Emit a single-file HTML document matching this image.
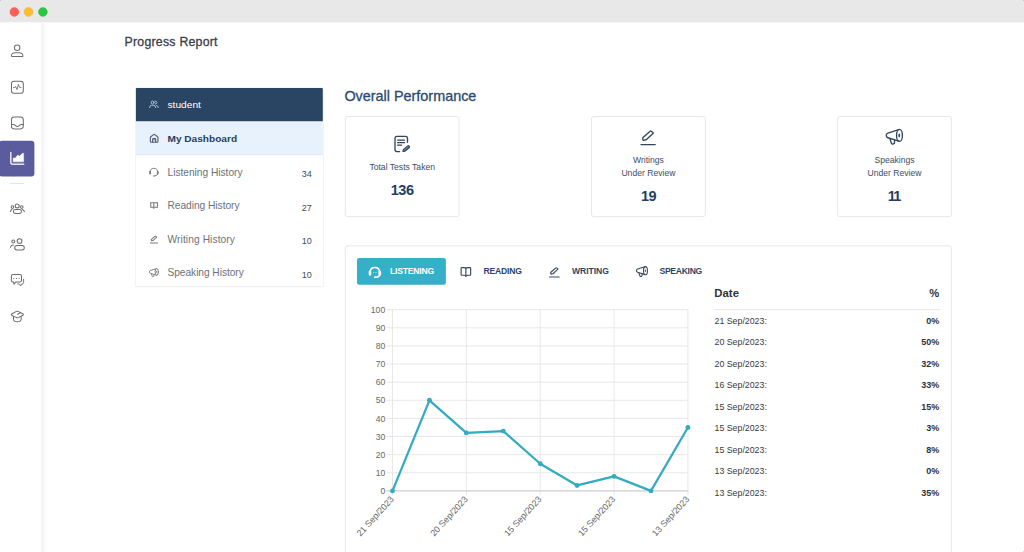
<!DOCTYPE html>
<html>
<head>
<meta charset="utf-8">
<title>Progress Report</title>
<style>
html,body{margin:0;padding:0;}
body{width:1024px;height:552px;overflow:hidden;background:#fff;font-family:"Liberation Sans",sans-serif;position:relative;}
.abs{position:absolute;}
.t{position:absolute;white-space:nowrap;line-height:1;}
#titlebar{left:0;top:0;width:1024px;height:22px;background:#e8e8e8;}
#sidebar{left:0;top:22px;width:41px;height:530px;background:#fff;}
#sideshadow{left:41px;top:22px;width:7px;height:530px;background:linear-gradient(to right,#f4f4f4 0%,#f7f7f7 25%,#fbfbfb 60%,#fff 100%);}
#nav{left:136px;top:88px;width:187px;height:198px;background:#fff;box-shadow:0 0 0 0.5px #ececec, 0 1px 2px rgba(0,0,0,0.04);}
.card{position:absolute;top:117px;width:113px;height:99px;border-radius:3px;background:#fff;}
#panel{left:346px;top:246px;width:605px;height:320px;border-radius:3px;background:#fff;}
</style>
</head>
<body>
<!-- window title bar -->
<div id="titlebar" class="abs"></div>

<div class="abs" style="left:0;top:551px;width:1px;height:1px;background:#d0d0d0;"></div>
<div class="abs" style="left:1023px;top:551px;width:1px;height:1px;background:#d0d0d0;"></div>
<!-- sidebar -->
<div id="sidebar" class="abs"></div>
<div id="sideshadow" class="abs"></div>
<div class="abs" style="left:10px;top:183px;width:14px;height:1px;background:#dfe4ee;"></div>

<!-- nav panel -->
<div id="nav" class="abs"></div>

<!-- cards -->
<div class="card" style="left:346px;"></div>
<div class="card" style="left:592px;"></div>
<div class="card" style="left:838px;"></div>

<!-- chart panel -->
<div id="panel" class="abs"></div>

<!-- chart -->
<svg class="abs" id="chart" style="left:340px;top:300px;" width="360" height="252" viewBox="340 300 360 252">
<line x1="386.4" x2="688.4" y1="472.78" y2="472.78" stroke="#e8e8e8" stroke-width="1"/>
<line x1="386.4" x2="688.4" y1="454.66" y2="454.66" stroke="#e8e8e8" stroke-width="1"/>
<line x1="386.4" x2="688.4" y1="436.54" y2="436.54" stroke="#e8e8e8" stroke-width="1"/>
<line x1="386.4" x2="688.4" y1="418.42" y2="418.42" stroke="#e8e8e8" stroke-width="1"/>
<line x1="386.4" x2="688.4" y1="400.30" y2="400.30" stroke="#e8e8e8" stroke-width="1"/>
<line x1="386.4" x2="688.4" y1="382.18" y2="382.18" stroke="#e8e8e8" stroke-width="1"/>
<line x1="386.4" x2="688.4" y1="364.06" y2="364.06" stroke="#e8e8e8" stroke-width="1"/>
<line x1="386.4" x2="688.4" y1="345.94" y2="345.94" stroke="#e8e8e8" stroke-width="1"/>
<line x1="386.4" x2="688.4" y1="327.82" y2="327.82" stroke="#e8e8e8" stroke-width="1"/>
<line x1="386.4" x2="688.4" y1="309.70" y2="309.70" stroke="#e8e8e8" stroke-width="1"/>
<line x1="392.50" x2="392.50" y1="309.70" y2="495.40" stroke="#e8e8e8" stroke-width="1"/>
<line x1="466.35" x2="466.35" y1="309.70" y2="495.40" stroke="#e8e8e8" stroke-width="1"/>
<line x1="540.20" x2="540.20" y1="309.70" y2="495.40" stroke="#e8e8e8" stroke-width="1"/>
<line x1="614.05" x2="614.05" y1="309.70" y2="495.40" stroke="#e8e8e8" stroke-width="1"/>
<line x1="687.90" x2="687.90" y1="309.70" y2="495.40" stroke="#e8e8e8" stroke-width="1"/>
<line x1="386.4" x2="688.4" y1="490.90" y2="490.90" stroke="#cdcdcd" stroke-width="1.4"/>
<text x="385.2" y="494" text-anchor="end" font-size="8.6" fill="#666">0</text>
<text x="385.2" y="476" text-anchor="end" font-size="8.6" fill="#666">10</text>
<text x="385.2" y="458" text-anchor="end" font-size="8.6" fill="#666">20</text>
<text x="385.2" y="440" text-anchor="end" font-size="8.6" fill="#666">30</text>
<text x="385.2" y="422" text-anchor="end" font-size="8.6" fill="#666">40</text>
<text x="385.2" y="403" text-anchor="end" font-size="8.6" fill="#666">50</text>
<text x="385.2" y="385" text-anchor="end" font-size="8.6" fill="#666">60</text>
<text x="385.2" y="367" text-anchor="end" font-size="8.6" fill="#666">70</text>
<text x="385.2" y="349" text-anchor="end" font-size="8.6" fill="#666">80</text>
<text x="385.2" y="331" text-anchor="end" font-size="8.6" fill="#666">90</text>
<text x="385.2" y="313" text-anchor="end" font-size="8.6" fill="#666">100</text>
<text transform="translate(392.20,497.70) rotate(-47.5)" x="0" y="3" text-anchor="end" font-size="8.9" fill="#666">21 Sep/2023</text>
<text transform="translate(466.05,497.70) rotate(-47.5)" x="0" y="3" text-anchor="end" font-size="8.9" fill="#666">20 Sep/2023</text>
<text transform="translate(539.90,497.70) rotate(-47.5)" x="0" y="3" text-anchor="end" font-size="8.9" fill="#666">15 Sep/2023</text>
<text transform="translate(613.75,497.70) rotate(-47.5)" x="0" y="3" text-anchor="end" font-size="8.9" fill="#666">15 Sep/2023</text>
<text transform="translate(687.60,497.70) rotate(-47.5)" x="0" y="3" text-anchor="end" font-size="8.9" fill="#666">13 Sep/2023</text>
<polyline points="392.50,490.90 429.43,400.30 466.35,432.92 503.27,431.10 540.20,463.72 577.12,485.46 614.05,476.40 650.97,490.90 687.90,427.48" fill="none" stroke="#33abc0" stroke-width="2.25" stroke-linejoin="round" stroke-linecap="round"/>
<circle cx="392.50" cy="490.90" r="2.45" fill="#33abc0"/>
<circle cx="429.43" cy="400.30" r="2.45" fill="#33abc0"/>
<circle cx="466.35" cy="432.92" r="2.45" fill="#33abc0"/>
<circle cx="503.27" cy="431.10" r="2.45" fill="#33abc0"/>
<circle cx="540.20" cy="463.72" r="2.45" fill="#33abc0"/>
<circle cx="577.12" cy="485.46" r="2.45" fill="#33abc0"/>
<circle cx="614.05" cy="476.40" r="2.45" fill="#33abc0"/>
<circle cx="650.97" cy="490.90" r="2.45" fill="#33abc0"/>
<circle cx="687.90" cy="427.48" r="2.45" fill="#33abc0"/>
</svg>

<!-- icons -->
<svg class="abs" id="icons" style="left:0;top:0;" width="1024" height="552" viewBox="0 0 1024 552" fill="none" stroke-linecap="round" stroke-linejoin="round">
<defs>
  <!-- megaphone, 18x16 box -->
  <g id="mega">
    <path d="M13.2 0.5 L2.3 3.95 Q0.65 4.5 0.65 6.3 Q0.65 8.1 2.3 8.65 L13.2 12.1"/>
    <ellipse cx="13.9" cy="6.3" rx="2.9" ry="6"/>
    <ellipse cx="13.7" cy="6.3" rx="0.9" ry="1.9" fill="currentColor" stroke="none"/>
    <path d="M4.4 9.7 L5.7 14 Q6 15 7 14.9 L8 14.7 Q8.9 14.4 8.9 13.5 L9 11.3"/>
  </g>
  <!-- pen, 16x16 box -->
  <g id="pen">
    <path d="M10.2 1.8 Q10.75 1.3 11.3 1.75 L12.95 3 Q13.45 3.45 12.95 3.9 L6.5 9.9 Q6.2 10.15 5.8 10.25 L3.65 10.85 Q3 11 2.93 10.35 L2.72 8.7 Q2.7 8.3 2.98 8.05 Z"/>
    <path d="M1 15.05 L15.2 15.05"/>
  </g>
  <!-- book, 11x10 box -->
  <g id="book">
    <path d="M5.3 1 Q4.6 0.3 3.4 0.3 L1 0.3 Q0.4 0.3 0.4 0.9 L0.4 7.6 Q0.4 8.2 1 8.2 L3.6 8.2 Q4.8 8.2 5.3 9.1 Q5.8 8.2 7 8.2 L9.6 8.2 Q10.2 8.2 10.2 7.6 L10.2 0.9 Q10.2 0.3 9.6 0.3 L7.2 0.3 Q6 0.3 5.3 1 Z"/>
    <path d="M5.3 1 L5.3 9.1"/>
  </g>
  <!-- headset, 12.5x11 box -->
  <g id="head">
    <path d="M1.6 5.2 Q1.6 0.5 6.25 0.5 Q10.9 0.5 10.9 5.2"/>
    <rect x="0.3" y="3.7" width="2.2" height="4.6" rx="1" fill="currentColor" stroke="none"/>
    <rect x="10" y="3.7" width="2.2" height="4.6" rx="1" fill="currentColor" stroke="none"/>
    <path d="M10.9 8 Q10.6 10 7 10.1"/>
    <circle cx="6.3" cy="10.1" r="0.9" fill="currentColor" stroke="none"/>
  </g>
</defs>

<!-- solid blocks (svg for sub-pixel edges) -->
<rect x="0" y="0" width="1024" height="22.3" fill="#e8e8e8"/>
<rect x="0" y="0" width="1" height="1" fill="#c6c6c6"/><rect x="1023" y="0" width="1" height="1" fill="#c6c6c6"/>
<rect x="714.5" y="309.15" width="225.6" height="1" fill="#e7e7e7"/>
<circle cx="14.37" cy="11.97" r="4.42" fill="#fe5f57" stroke="#ec5047" stroke-width="0.4"/>
<circle cx="28.5" cy="11.97" r="4.42" fill="#febc2e" stroke="#eaa927" stroke-width="0.4"/>
<circle cx="42.85" cy="11.97" r="4.42" fill="#28c840" stroke="#21b038" stroke-width="0.4"/>
<rect x="-1.2" y="140.7" width="35.6" height="35.7" rx="3.2" fill="#5a5c9e"/>
<path d="M135.9 121.5 L135.9 88.8 Q135.9 88 136.7 88 L322 88 Q322.8 88 322.8 88.8 L322.8 121.5 Z" fill="#2a4563"/>
<rect x="135.9" y="121.5" width="186.9" height="33.7" fill="#e8f2fc"/>
<rect x="135.9" y="154.3" width="186.9" height="0.9" fill="#e3e9f6"/>
<rect x="357" y="258" width="88.9" height="26.7" rx="2.2" fill="#34b0c8"/>
<!-- card / panel outlines -->
<g stroke="#e7e7e7" stroke-width="1" fill="none">
<rect x="345.3" y="116.55" width="113.8" height="100.05" rx="2.3"/>
<rect x="591.55" y="116.55" width="113.8" height="100.05" rx="2.3"/>
<rect x="837.6" y="116.55" width="113.8" height="100.05" rx="2.3"/>
<rect x="345.3" y="245.8" width="606.1" height="320" rx="2.3"/>
</g>
<!-- sidebar icons -->
<g stroke="#6c6c6c" stroke-width="1.02">
  <!-- person -->
  <circle cx="17.15" cy="47.8" r="2.75"/>
  <path d="M11.45 55.9 C11.45 53.8 13.6 52.65 15.2 52.65 L19.2 52.65 C20.8 52.65 22.95 53.8 22.95 55.9 Q22.95 56.55 22.3 56.55 L12.1 56.55 Q11.45 56.55 11.45 55.9 Z"/>
  <!-- pulse -->
  <rect x="11.45" y="81.2" width="11.85" height="12" rx="2.5"/>
  <path d="M13.3 87.6 L14.7 87.6 L15.5 86.3 L17 89.6 L18.4 84.3 L19.7 87.6 L21 87.6" stroke-width="0.85"/>
  <!-- inbox -->
  <rect x="11.45" y="116.9" width="11.85" height="12" rx="2.8"/>
  <path d="M11.5 124.4 L13.6 124.4 C15.2 124.4 15.3 126.4 17.35 126.4 C19.4 126.4 19.5 124.4 21.1 124.4 L23.2 124.4"/>
  <!-- group -->
  <circle cx="17.2" cy="206.1" r="2.0"/>
  <rect x="13.4" y="209.6" width="8.1" height="3.9" rx="1.95"/>
  <circle cx="12.4" cy="207.1" r="1.3"/>
  <circle cx="21.75" cy="207.1" r="1.3"/>
  <path d="M11.8 209.5 Q10.8 210.1 10.3 211.6"/>
  <path d="M22.5 209.5 Q23.8 210.1 24.4 211.6"/>
  <!-- two people -->
  <circle cx="19.55" cy="241" r="2.35"/>
  <rect x="14.7" y="245.4" width="9.6" height="4.5" rx="2.25"/>
  <circle cx="13.3" cy="241.4" r="1.5"/>
  <path d="M10.4 247.3 Q10.8 245.3 13.4 245.1"/>
  <!-- chat -->
  <path d="M13 274.5 L19.9 274.5 Q21.5 274.5 21.5 276.1 L21.5 280.4 Q21.5 282 19.9 282 L15.8 282 L14 284.2 L13.7 282 L13 282 Q11.4 282 11.4 280.4 L11.4 276.1 Q11.4 274.5 13 274.5 Z"/>
  <path d="M23.6 279.2 L23.6 282.5 Q23.6 284 22.1 284 L21.7 284 L20.6 286 L19.7 284.1 L17.7 284" stroke-width="0.9"/>
  <path d="M13.5 278.5 L13.9 278.5 M16.4 278.5 L16.8 278.5 M19.1 278.5 L19.5 278.5" stroke-width="0.75"/>
  <!-- grad cap -->
  <path d="M16.4 311.4 Q17.3 310.9 18.2 311.4 L23 314 Q23.9 314.6 23 315.2 L18.2 317.6 Q17.3 318 16.4 317.6 L11.6 315.2 Q10.8 314.6 11.6 314 Z"/>
  <path d="M17.7 314.2 L20.3 312.7"/>
  <path d="M13.5 316.5 L13.5 319 Q13.7 321.8 17.3 321.8 Q21 321.8 21.2 319 L21.2 316.5"/>
</g>
<!-- active area-chart icon -->
<path d="M10.8 152.4 L10.8 162.2 Q10.8 164.2 12.8 164.2 L23.7 164.2" stroke="#e6e6ff" stroke-width="1.5"/>
<path d="M13.1 161.8 L13.1 157.9 L15.2 157.9 L17.7 155 L19.4 156.1 L22.8 153 L23.7 153.4 L23.7 161.8 Z" fill="#fff" stroke="#fff" stroke-width="0.3"/>

<!-- nav icons -->
<g stroke="#b9cbe4" stroke-width="0.9">
  <circle cx="152.6" cy="102.5" r="1.5"/>
  <path d="M149.6 107.6 Q149.6 105.3 151.4 105.3 L153.8 105.3 Q155.6 105.3 155.6 107.6"/>
  <path d="M155 101.1 Q156.9 101 156.9 102.6 Q156.9 104 155.3 104.1"/>
  <path d="M156.6 105.4 Q158.3 105.7 158.3 107.6"/>
</g>
<g stroke="#4f5c6e" stroke-width="1.1">
  <path d="M150.35 137.6 Q150.35 137.1 150.75 136.8 L153.5 134.6 Q154.15 134.1 154.8 134.6 L157.55 136.8 Q157.95 137.1 157.95 137.6 L157.95 141.4 Q157.95 142.3 157.05 142.3 L151.25 142.3 Q150.35 142.3 150.35 141.4 Z"/>
  <path d="M152.7 142.3 L152.7 139.2 Q152.7 138.6 153.3 138.6 L155.1 138.6 Q155.7 138.6 155.7 139.2 L155.7 142.3" fill="#bcc6d2"/>
</g>
<g stroke="#7a7a7a" color="#7a7a7a">
  <use href="#head" transform="translate(148.9,167.9) scale(0.8)" stroke-width="1.25"/>
  <path d="M150.7 202.75 L157.5 202.75 L157.5 207.3 L150.7 207.3 Z M153.85 202.75 L153.85 208.4" stroke-width="1.05" stroke-linejoin="miter"/>
  <use href="#pen" transform="translate(149.9,235.3) scale(0.51)" stroke-width="2"/>
  <use href="#mega" transform="translate(149,268.4) scale(0.56)" stroke-width="1.7"/>
</g>

<!-- card icons -->
<g stroke="#31465e" color="#31465e" stroke-width="1.35">
  <!-- doc -->
  <path d="M407.5 142.2 L407.5 138.4 Q407.5 136.4 405.5 136.4 L397 136.4 Q395 136.4 395 138.4 L395 149.6 Q395 151.6 397 151.6 L399.6 151.6"/>
  <path d="M397.6 140.1 L404.6 140.1 M397.6 142.7 L404.6 142.7 M397.6 145.2 L401.6 145.2" stroke-width="1.25"/>
  <path d="M402.9 151.4 L403.3 149.6 L407.7 145.9 Q408.4 145.4 409 146 L409.3 146.4 Q409.8 147.1 409.2 147.7 L404.8 151.3 Z" fill="#6d8296" stroke-width="1.1"/>
  <use href="#pen" transform="translate(640,129.5)"/>
  <use href="#mega" transform="translate(885.6,129.1)"/>
</g>

<!-- tab icons -->
<g stroke="#fff" color="#fff"><use href="#head" transform="translate(368.6,267.1)" stroke-width="1.5"/></g>
<rect x="368.7" y="270.6" width="2.5" height="5" rx="1.1" fill="#fff"/><rect x="378.6" y="270.6" width="2.5" height="5" rx="1.1" fill="#fff"/>
<circle cx="373.7" cy="272.6" r="0.6" fill="#aef0fa"/><circle cx="376" cy="272.6" r="0.6" fill="#aef0fa"/>
<g stroke="#3b4a60" color="#3b4a60">
  <use href="#book" transform="translate(460.75,267.3) scale(0.97)" stroke-width="1.18"/>
  <use href="#pen" transform="translate(548.8,266.7) scale(0.685)" stroke-width="1.7"/>
  <use href="#mega" transform="translate(636,266.4) scale(0.68)" stroke-width="1.6"/>
</g>
</svg>

<!-- text -->
<div class="t" style="left:124.6px;top:36px;font-size:12.3px;color:#3b4046;letter-spacing:0.24px;-webkit-text-stroke:0.3px #3b4046;">Progress Report</div>
<div class="t" style="left:344.4px;top:89px;font-size:14.4px;color:#2b4a6c;-webkit-text-stroke:0.3px #2b4a6c;">Overall Performance</div>
<div class="t" style="left:167.5px;top:100px;font-size:10.2px;color:#fff;transform:scaleY(0.93);transform-origin:0 80%;">student</div>
<div class="t" style="left:167.5px;top:134px;font-size:10.1px;color:#27405f;font-weight:bold;transform:scaleY(0.93);transform-origin:0 80%;">My Dashboard</div>
<div class="t" style="left:167.5px;top:168px;font-size:10.2px;color:#6d7278;letter-spacing:-0.02px;">Listening History</div>
<div class="t" style="left:167.5px;top:201px;font-size:10.2px;color:#6d7278;letter-spacing:-0.03px;">Reading History</div>
<div class="t" style="left:167.5px;top:235px;font-size:10.2px;color:#6d7278;letter-spacing:0.1px;">Writing History</div>
<div class="t" style="left:167.5px;top:268px;font-size:10.2px;color:#6d7278;letter-spacing:-0.05px;">Speaking History</div>
<div class="t" style="left:301.7px;top:170px;font-size:9.0px;color:#3f4b5e;">34</div>
<div class="t" style="left:301.7px;top:204px;font-size:9.0px;color:#3f4b5e;">27</div>
<div class="t" style="left:301.7px;top:237px;font-size:9.0px;color:#3f4b5e;">10</div>
<div class="t" style="left:301.7px;top:271px;font-size:9.0px;color:#3f4b5e;">10</div>
<div class="t" style="left:345px;top:163px;font-size:8.6px;color:#3c4d63;width:114.4px;text-align:center;">Total Tests Taken</div>
<div class="t" style="left:345px;top:183px;font-size:14.5px;color:#25405f;font-weight:bold;width:114.4px;text-align:center;letter-spacing:-0.4px;">136</div>
<div class="t" style="left:591.2px;top:156px;font-size:8.6px;color:#3c4d63;width:114.4px;text-align:center;">Writings</div>
<div class="t" style="left:591.2px;top:169px;font-size:8.6px;color:#3c4d63;width:114.4px;text-align:center;">Under Review</div>
<div class="t" style="left:591.2px;top:189px;font-size:14.5px;color:#25405f;font-weight:bold;width:114.4px;text-align:center;letter-spacing:-0.7px;">19</div>
<div class="t" style="left:837.3px;top:156px;font-size:8.6px;color:#3c4d63;width:114.4px;text-align:center;">Speakings</div>
<div class="t" style="left:837.3px;top:169px;font-size:8.6px;color:#3c4d63;width:114.4px;text-align:center;">Under Review</div>
<div class="t" style="left:836.5px;top:189px;font-size:14.5px;color:#25405f;font-weight:bold;width:114.4px;text-align:center;letter-spacing:-1.6px;">11</div>
<div class="t" style="left:390px;top:267px;font-size:8.6px;color:#fff;font-weight:bold;letter-spacing:-0.2px;">LISTENING</div>
<div class="t" style="left:483.5px;top:267px;font-size:8.6px;color:#2c4564;font-weight:bold;letter-spacing:-0.2px;">READING</div>
<div class="t" style="left:572px;top:267px;font-size:8.6px;color:#2c4564;font-weight:bold;letter-spacing:-0.05px;">WRITING</div>
<div class="t" style="left:659.5px;top:267px;font-size:8.6px;color:#2c4564;font-weight:bold;letter-spacing:-0.3px;">SPEAKING</div>
<div class="t" style="left:714.3px;top:288px;font-size:11.4px;color:#333;font-weight:bold;">Date</div>
<div class="t" style="left:900px;top:288px;font-size:11.2px;color:#333;font-weight:bold;width:39.3px;text-align:right;">%</div>
<div class="t" style="left:714.5px;top:317px;font-size:8.8px;color:#3a3a3a;">21 Sep/2023:</div>
<div class="t" style="left:899.2px;top:317px;font-size:9.0px;color:#333;font-weight:bold;width:40px;text-align:right;">0%</div>
<div class="t" style="left:714.5px;top:338px;font-size:8.8px;color:#3a3a3a;">20 Sep/2023:</div>
<div class="t" style="left:899.2px;top:338px;font-size:9.0px;color:#333;font-weight:bold;width:40px;text-align:right;">50%</div>
<div class="t" style="left:714.5px;top:360px;font-size:8.8px;color:#3a3a3a;">20 Sep/2023:</div>
<div class="t" style="left:899.2px;top:360px;font-size:9.0px;color:#333;font-weight:bold;width:40px;text-align:right;">32%</div>
<div class="t" style="left:714.5px;top:381px;font-size:8.8px;color:#3a3a3a;">16 Sep/2023:</div>
<div class="t" style="left:899.2px;top:381px;font-size:9.0px;color:#333;font-weight:bold;width:40px;text-align:right;">33%</div>
<div class="t" style="left:714.5px;top:403px;font-size:8.8px;color:#3a3a3a;">15 Sep/2023:</div>
<div class="t" style="left:899.2px;top:403px;font-size:9.0px;color:#333;font-weight:bold;width:40px;text-align:right;">15%</div>
<div class="t" style="left:714.5px;top:424px;font-size:8.8px;color:#3a3a3a;">15 Sep/2023:</div>
<div class="t" style="left:899.2px;top:424px;font-size:9.0px;color:#333;font-weight:bold;width:40px;text-align:right;">3%</div>
<div class="t" style="left:714.5px;top:446px;font-size:8.8px;color:#3a3a3a;">15 Sep/2023:</div>
<div class="t" style="left:899.2px;top:446px;font-size:9.0px;color:#333;font-weight:bold;width:40px;text-align:right;">8%</div>
<div class="t" style="left:714.5px;top:467px;font-size:8.8px;color:#3a3a3a;">13 Sep/2023:</div>
<div class="t" style="left:899.2px;top:467px;font-size:9.0px;color:#333;font-weight:bold;width:40px;text-align:right;">0%</div>
<div class="t" style="left:714.5px;top:489px;font-size:8.8px;color:#3a3a3a;">13 Sep/2023:</div>
<div class="t" style="left:899.2px;top:489px;font-size:9.0px;color:#333;font-weight:bold;width:40px;text-align:right;">35%</div>
</body>
</html>
